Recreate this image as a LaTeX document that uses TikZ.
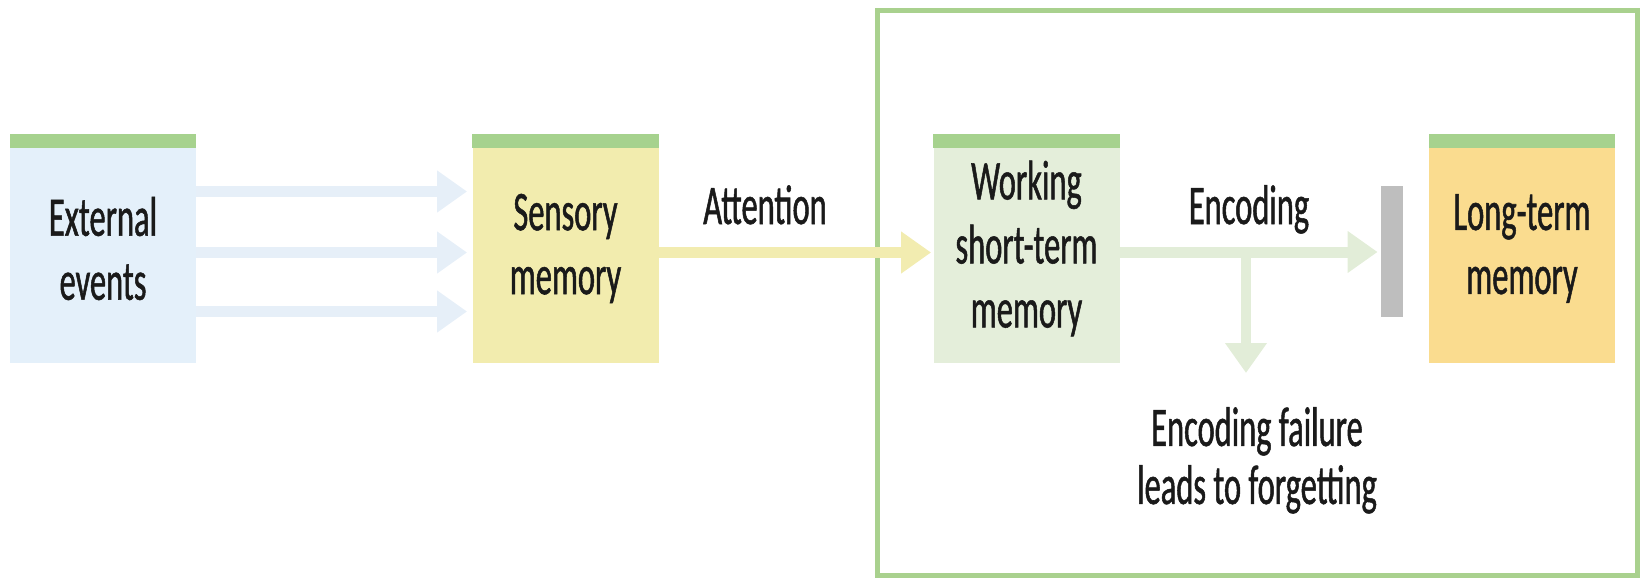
\documentclass[tikz,border=0pt]{standalone}
\usepackage{fontspec}
\setmainfont{Carlito}[FakeStretch=0.58,FakeBold=0.9]
\usetikzlibrary{arrows.meta}

\definecolor{extBlue}{HTML}{E4F0FA}
\definecolor{sensYellow}{HTML}{F2ECAE}
\definecolor{workGreen}{HTML}{E4EEDA}
\definecolor{longOrange}{HTML}{FADC8F}
\definecolor{barGreen}{HTML}{A6D28E}
\definecolor{frameGreen}{HTML}{A9D18E}
\definecolor{arrowBlue}{HTML}{E6EFF8}
\definecolor{arrowYellow}{HTML}{F2ECB0}
\definecolor{arrowGreen}{HTML}{E2EDD8}
\definecolor{gateGray}{HTML}{BEBEBE}
\definecolor{ink}{HTML}{1A1A1A}

\tikzset{
  memorybox/.style={rectangle, minimum width=93pt, minimum height=114.5pt, inner sep=0pt,
    align=center, text=ink, font=\fontsize{28}{32}\selectfont},
  label/.style={align=center, text=ink, font=\fontsize{28}{29}\selectfont},
  flow/.style={line width=5.5pt, -{Triangle[length=15pt,width=20pt]}, shorten >=1pt},
}

\begin{document}
\begin{tikzpicture}[x=0.5pt,y=0.5pt,yscale=-1,xscale=1]
\useasboundingbox (0,0) rectangle (1646,578);

%Shape: Rectangle [frame]
\draw [frameGreen, line width=2.5pt] (877,10) rectangle (1637,575);

%Shape: Rectangle [external]
\node [memorybox, fill=extBlue] (ext) at (103,248.5) {External\\events};
\fill [barGreen] (ext.north west) rectangle ([yshift=7pt]ext.north east);
%Shape: Rectangle [sensory]
\node [memorybox, fill=sensYellow] (sens) at (565.5,248.5) {Sensory\\memory};
\fill [barGreen] (sens.north west) rectangle ([yshift=7pt]sens.north east);
%Shape: Rectangle [working]
\node [memorybox, fill=workGreen] (work) at (1026.5,248.5) {Working\\short-term\\memory};
\fill [barGreen] (work.north west) rectangle ([yshift=7pt]work.north east);
%Shape: Rectangle [long-term]
\node [memorybox, fill=longOrange] (long) at (1522,248.5) {Long-term\\memory};
\fill [barGreen] (long.north west) rectangle ([yshift=7pt]long.north east);
%Shape: Rectangle [gate]
\node [rectangle, fill=gateGray, minimum width=11pt, minimum height=65.5pt, inner sep=0pt] (gate) at (1392,251.5) {};

%Straight Lines [events to sensory]
\foreach \dy in {-28.5,2,31.5}
  \draw [flow, arrowBlue, shorten >=2.5pt] ([yshift=\dy pt]ext.east) -- ([yshift=\dy pt]sens.west);
%Straight Lines [attention]
\draw [flow, arrowYellow] ([yshift=2pt]sens.east) -- ([yshift=2pt]work.west);
%Straight Lines [encoding]
\coordinate (split) at (1246,252);
\draw [flow, arrowGreen, shorten >=1.5pt] (work.east |- split) -- (gate.west |- split);
\draw [flow, arrowGreen, line width=5pt] (split) -- (1246,375) coordinate (failtip);

% Text Node
\node [label, anchor=base] (attn) at (765,224) {Attention};
% Text Node
\node [label, anchor=base] (enc) at (1249,224) {Encoding};
% Text Node
\node [label, anchor=north] (fail) at (1257,400) {Encoding failure\\leads to forgetting};
\end{tikzpicture}
\end{document}
